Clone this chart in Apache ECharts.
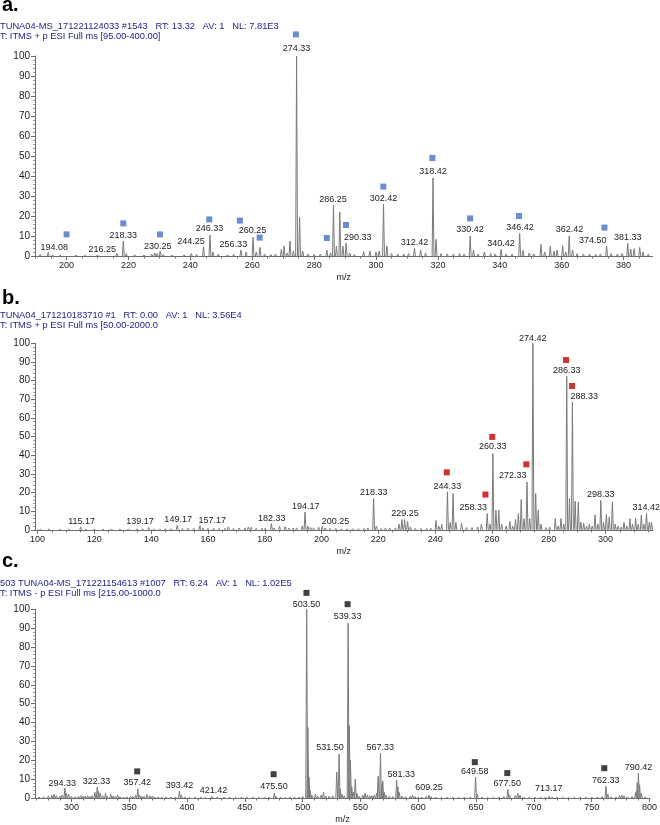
<!DOCTYPE html>
<html><head><meta charset="utf-8">
<script src="https://cdn.jsdelivr.net/npm/echarts@6/dist/echarts.min.js"></script>
<style>html,body{margin:0;padding:0;background:#fff}#c{width:660px;height:825px}</style>
</head><body><div id="c"></div>
<script>
// ---------- Panel a ----------
const peaksA = [[191.5,0.8],[194.08,1.8],[195.5,0.6],[198,0.5],[203,0.5],[206,0.4],[210,0.5],[216.25,1.2],[218.33,7.5],[219.3,1.2],[222,0.6],[225,0.5],[227.5,1.0],[228.5,1.5],[229.3,1.2],[230.25,2.5],[231.3,0.8],[234,0.5],[238,0.6],[240.3,1.2],[242,0.8],[244.25,4.7],[246.33,10.5],[247.3,2.0],[249,0.8],[252,0.6],[254,0.8],[256.33,3.0],[258,2.0],[260.25,9.3],[261.3,2.0],[262.5,4.3],[264,1.0],[266,0.8],[267.5,1.0],[269.4,3.3],[270.3,5.0],[271.3,1.5],[272.2,7.5],[273.3,2.5],[274.33,100],[275.3,19.3],[276.3,2.5],[278,1.0],[280,0.8],[282,1.0],[284.1,3.0],[285.3,1.5],[286.25,25.5],[287.2,5],[288.3,22],[289.3,5],[290.33,6.5],[291.5,1.5],[293,0.8],[296,2.2],[298,2.5],[300,2.0],[301,2.5],[302.42,26],[303.5,5],[305,1.2],[307,1.0],[309,1.0],[310.5,1.2],[312.42,3.8],[314.4,3.0],[316,1.5],[318.42,39],[319.4,8.3],[321,1.2],[323,1.0],[325,1.0],[327,1.2],[328.5,1.0],[330.42,10],[331.5,3],[333,1],[335,2],[337,1.2],[338.5,1.0],[340.42,3.3],[342,1.0],[344,1.0],[346.42,11.3],[347.5,2.7],[349.5,1.5],[351,1.0],[353.3,5.8],[354.5,2],[356.3,5.0],[357.5,2.5],[358.5,3],[360.3,5.2],[361.3,2],[362.42,10],[363.5,3],[365,1.2],[367,1.0],[369,1.0],[371,0.8],[372.5,1.0],[374.5,5],[376,1.2],[378,1.0],[379.5,1.2],[381.33,6.3],[382.3,3.5],[383.4,3.7],[385.2,4.3],[386.3,2],[388,1.0]];
const labelsA = [['274.33',274.33,103.8],['194.08',196.0,4.2],['216.25',211.5,3.3],['218.33',218.33,10.2],['230.25',229.5,4.7],['244.25',240.2,7.2],['246.33',246.2,13.7],['256.33',253.9,5.8],['260.25',260.1,12.5],['286.25',286.1,28.3],['290.33',294.1,9.2],['302.42',302.4,28.8],['312.42',312.4,6.7],['318.42',318.4,42.2],['330.42',330.4,13.3],['340.42',340.4,6],['346.42',346.5,14.2],['362.42',362.5,13],['374.50',370.0,7.7],['381.33',381.33,9.2]];
const squaresA = [[200.0,10.8],[218.33,16.3],[230.2,10.8],[246.1,18.3],[256.0,17.7],[262.4,9.2],[284.1,9],[290.3,15.5],[302.35,34.7],[318.2,49],[330.4,18.8],[346.2,20],[373.8,14.2],[274.1,110.8]];
const ticksA = [200,220,240,260,280,300,320,340,360,380];
const titleA = ['TUNA04-MS_171221124033 #1543   RT: 13.32   AV: 1   NL: 7.81E3','T: ITMS + p ESI Full ms [95.00-400.00]'];

// ---------- Panel b ----------
const peaksB = [[101,0.3],[104,0.4],[108,0.4],[111,0.4],[115.17,1.5],[117,0.4],[120,0.3],[123,0.4],[126,0.5],[129,0.4],[132,0.5],[135,0.5],[137,0.6],[139.17,1.2],[141,0.5],[143,0.5],[145,0.6],[147,0.6],[149.17,2.4],[151,0.7],[153,0.8],[155,0.8],[157.17,2.2],[158.2,1.0],[160,0.8],[162,0.8],[164,0.8],[166,0.8],[167.2,1.6],[169,0.8],[171,1.0],[173,1.0],[174.2,1.5],[175.2,1.3],[177,0.8],[179,0.9],[180.2,0.9],[182.33,3.3],[183.3,1.0],[185.2,2.0],[187.2,1.8],[188.5,0.9],[190,1.0],[191.2,1.0],[193.2,2.0],[194.17,9.5],[195.2,2.0],[196.2,1.2],[197.2,1.0],[199,1.4],[200.25,1.8],[201.3,1.0],[203,0.8],[205,0.8],[207,0.6],[209,0.5],[211,0.6],[213,0.6],[215,0.7],[216.3,1.0],[218.33,16.7],[219.3,2.0],[221,0.8],[222.5,1.0],[224,1.0],[226,1.0],[227.3,3.0],[228.3,5.5],[229.25,5.5],[230.3,4.5],[231.3,1.5],[233,0.8],[235,0.8],[237,0.8],[238.5,0.8],[240.3,5],[241.3,2],[242.3,3],[244.33,20.3],[245.3,4],[246.3,19.4],[247.3,4],[249.3,3.5],[251,1.2],[253,1.2],[255,1.5],[256.3,3],[258.33,8.7],[259.3,3],[260.33,40.8],[261.4,10.5],[262.4,10.5],[263.4,3],[265,2],[266.3,4.5],[267.3,2],[268.3,5.5],[269.3,8.7],[270.3,16.2],[271.3,6],[272.33,25.6],[273.3,6],[274.42,100],[275.4,19.4],[276.3,10.5],[277.3,3],[279,1.2],[280.3,1.5],[282.3,6],[283.3,2],[284.3,6],[285.3,3],[286.33,82.3],[287.3,16.8],[288.33,68.5],[289.3,15.4],[290.4,14.9],[291.3,4],[292.3,3.5],[293.3,2],[294.3,3],[295.3,2],[296.3,8],[297.3,3],[298.33,15.8],[299.3,4],[300.3,8.3],[301.3,6.8],[302.4,14.9],[303.4,3],[304.4,2],[305.5,1.5],[306.5,4],[307.5,2],[308.6,6],[309.5,3],[310.6,6.3],[311.5,3],[312.6,7.8],[313.5,3],[314.42,8.7],[315.4,4],[316.2,4]];
const labelsB = [['115.17',115.5,4.6],['139.17',136.1,4.6],['149.17',149.5,5.5],['157.17',161.5,5.1],['182.33',182.5,6.3],['194.17',194.4,12.6],['200.25',204.9,4.6],['218.33',218.4,19.9],['229.25',229.4,8.7],['244.33',244.3,23.3],['258.33',253.4,11.9],['260.33',260.3,44.4],['272.33',267.3,28.9],['274.42',274.4,102.5],['286.33',286.33,85.5],['288.33',292.5,71.7],['298.33',298.3,19],['314.42',314.3,11.9]];
const squaresB = [[244.1,30.8],[257.7,18.9],[260.1,49.8],[272.1,35.1],[286.1,91],[288.2,77.1]];
const ticksB = [100,120,140,160,180,200,220,240,260,280,300];
const titleB = ['TUNA04_171210183710 #1   RT: 0.00   AV: 1   NL: 3.56E4','T: ITMS + p ESI Full ms [50.00-2000.0'];

// ---------- Panel c ----------
const peaksC = [[272,0.5],[276,0.6],[280,1.0],[283,1.5],[285,2.0],[287,1.2],[290,1.0],[292,1.5],[294.33,5.3],[295.5,2.5],[297.5,2.0],[300,0.8],[303,0.6],[306,0.8],[308,1.2],[310,1.0],[312,1.0],[314,1.2],[316,0.8],[318,1.2],[320.3,3.0],[322.33,5.8],[323.5,3.5],[325,2.5],[327,1.2],[329.5,2.5],[331,1.0],[334,2.0],[336,1.0],[338,0.8],[340,1.5],[342,0.6],[345,0.5],[348,0.6],[351,0.8],[353,0.8],[355.5,1.5],[357.42,4.9],[359,1.5],[361,0.8],[363,0.8],[365.5,1.8],[368,1.2],[370,1.0],[372,0.6],[375,0.5],[378,0.5],[382,0.5],[386,0.5],[390,0.6],[393.42,3.7],[395,1.5],[398,0.6],[402,0.4],[407,0.4],[412,0.4],[416,0.4],[421.42,0.8],[426,0.4],[432,0.4],[437,0.4],[442,0.4],[447,0.5],[452,0.4],[457,0.4],[462,0.4],[467,0.4],[471,0.5],[475.5,2.6],[477,0.8],[481,0.5],[485,0.4],[489,0.5],[493,0.5],[497,0.5],[500,0.8],[503.5,100],[504.5,37.4],[505.5,11],[506.5,4],[508,1.5],[511,2.0],[513,1.0],[516,1.5],[518,3.0],[520,1.0],[523,1.0],[526,1.2],[529.5,13.7],[531.5,23.3],[532.5,5],[534,2],[536,1.2],[539.33,92.6],[540.33,38.3],[541.33,20],[542.5,6],[544,3],[545.5,10],[547,2.5],[549,1.0],[552,1.5],[554,2.5],[556,1.5],[558,1.2],[560,1.2],[562,1.5],[564,2.5],[565.3,11.6],[567.33,23.8],[568.3,7],[569.3,9],[570.5,3],[572,1.5],[575,1.0],[578,0.8],[581.33,9.4],[582.4,6],[583.5,3],[586,1.0],[589,0.6],[593,0.8],[595,1.5],[597,0.8],[600,0.6],[603,0.5],[607,0.8],[609.25,1.5],[611,0.8],[615,0.5],[620,0.4],[625,0.4],[630,0.4],[635,0.4],[640,0.5],[645,0.5],[649.58,11],[651,2.0],[655,0.5],[660,0.4],[665,0.4],[670,0.5],[674,0.8],[677.5,4.5],[679,1.5],[684,1.2],[686,2.5],[688,1.5],[691,0.6],[696,0.4],[701,0.4],[706,0.4],[710,0.5],[713.17,0.8],[716,0.5],[720,0.4],[725,0.4],[730,0.4],[735,0.4],[740,0.4],[745,0.4],[750,0.5],[755,0.5],[759,0.8],[762.33,6.2],[764,2.0],[767,0.6],[771,0.6],[774,1.2],[776,1.5],[778,1.2],[781,0.6],[785,0.8],[788,3],[789.4,8],[790.42,13.2],[791.4,7],[793,2.5],[796,0.6]];
const labelsC = [['294.33',292.0,7.9],['322.33',321.6,8.9],['357.42',356.9,8],['393.42',393.4,6.6],['421.42',422.9,4],['475.50',475.2,6.1],['503.50',503.3,102.6],['531.50',523.7,26.8],['539.33',538.9,96.2],['567.33',567.1,26.8],['581.33',585.2,12.3],['609.25',609.3,5.3],['649.58',648.9,13.8],['677.50',677.0,7.5],['713.17',712.9,5],['762.33',762.2,9.4],['790.42',790.4,16.3]];
const squaresC = [[356.9,14.1],[474.9,12.6],[503.3,108.7],[538.9,102.7],[648.9,19],[677.0,13.2],[760.9,15.8]];
const ticksC = [300,350,400,450,500,550,600,650,700,750,800];
const titleC = ['503 TUNA04-MS_171221154613 #1007   RT: 6.24   AV: 1   NL: 1.02E5','T: ITMS - p ESI Full ms [215.00-1000.0'];

const yTicks = [0,10,20,30,40,50,60,70,80,90,100];

// ---------- layout / style ----------
const FONT = '"Liberation Sans", Arial, Helvetica, sans-serif';
const AXIS = '#6e6e6e';
const TXT = '#1b1b1b';
const NAVY = '#23238c';
const SPEC = '#7a7a7a';

const panels = [
  {tag:'a.', tagY:5, titleY:26, title:titleA, peaks:peaksA, labels:labelsA, squares:squaresA, sq:'#4472c4',
   min:189.8, max:389.4, ticks:ticksA, minorFrom:190, minorStep:5, top:56, height:200, hw:0.3},
  {tag:'b.', tagY:298, titleY:315.5, title:titleB, peaks:peaksB, labels:labelsB, squares:squaresB, sq:'#c00000',
   min:99.1, max:316.6, ticks:ticksB, minorFrom:100, minorStep:5, top:343.3, height:186.5, hw:0.33},
  {tag:'c.', tagY:561, titleY:583.3, title:titleC, peaks:peaksC, labels:labelsC, squares:squaresC, sq:'#111111',
   min:268.5, max:800.5, ticks:ticksC, minorFrom:270, minorStep:10, top:609.3, height:190, hw:0.8}
];

const grid = [], xAxis = [], yAxis = [], series = [], graphic = [];
panels.forEach((p, i) => {
  grid.push({left:35, right:7.3, top:p.top, height:p.height, containLabel:false});
  const minor = [];
  for (let v = p.minorFrom; v <= p.max; v += p.minorStep) if (v >= p.min) minor.push(v);
  xAxis.push({
    gridIndex:i, type:'value', min:p.min, max:p.max, position:'bottom',
    axisLine:{show:true, onZero:false, lineStyle:{color:AXIS, width:1}},
    axisTick:{show:true, length:4, customValues:p.ticks, lineStyle:{color:AXIS}},
    axisLabel:{show:true, customValues:p.ticks, fontSize:9, fontFamily:FONT, color:TXT, margin:5, hideOverlap:false},
    splitLine:{show:false},
    name:'m/z', nameLocation:'middle', nameGap:17, nameTextStyle:{fontSize:9, fontFamily:FONT, color:TXT}
  });
  xAxis.push({
    gridIndex:i, type:'value', min:p.min, max:p.max, position:'bottom', offset:0,
    axisLine:{show:false}, axisLabel:{show:false}, splitLine:{show:false},
    axisTick:{show:true, length:2.5, customValues:minor, lineStyle:{color:AXIS}}
  });
  yAxis.push({
    gridIndex:i, type:'value', min:0, max:100, interval:10,
    axisLine:{show:true, lineStyle:{color:AXIS, width:1}},
    axisTick:{show:true, length:4, lineStyle:{color:AXIS}},
    minorTick:{show:true, splitNumber:5, length:2, lineStyle:{color:'#9a9a9a'}},
    axisLabel:{fontSize:10, fontFamily:FONT, color:TXT, margin:5, customValues:yTicks},
    splitLine:{show:false}
  });
  const hw = p.hw;
  series.push({
    type:'custom', xAxisIndex:2*i, yAxisIndex:i, silent:true, animation:false,
    data:p.peaks,
    renderItem:(params, api) => {
      const x = api.value(0), y = api.value(1);
      const l = api.coord([x - hw, 0]);
      const t = api.coord([x, y]);
      const r = api.coord([x + hw, 0]);
      return {type:'polyline', shape:{points:[l, t, r]}, style:{stroke:SPEC, fill:null, lineWidth:1}};
    }
  });
  series.push({
    type:'scatter', xAxisIndex:2*i, yAxisIndex:i, silent:true, clip:false, animation:false,
    symbol:'rect', symbolSize:6, itemStyle:{color:p.sq}, data:p.squares, z:5
  });
  const labs = p.labels;
  series.push({
    type:'custom', xAxisIndex:2*i, yAxisIndex:i, silent:true, animation:false, z:6,
    data:labs.map(l => [l[1], l[2]]),
    renderItem:(params, api) => {
      const c = api.coord([api.value(0), api.value(1)]);
      return {type:'text', x:c[0], y:c[1], style:{text:labs[params.dataIndex][0], fill:TXT,
        font:'9px ' + FONT, align:'center', verticalAlign:'middle'}};
    }
  });
  graphic.push({type:'text', x:2, y:p.tagY, style:{text:p.tag, fill:'#000', font:'bold 20px ' + FONT, verticalAlign:'middle'}});
  graphic.push({type:'text', x:0, y:p.titleY, style:{text:p.title[0], fill:NAVY, font:'9.3px ' + FONT, verticalAlign:'middle'}});
  graphic.push({type:'text', x:0, y:p.titleY + 10, style:{text:p.title[1], fill:NAVY, font:'9.3px ' + FONT, verticalAlign:'middle'}});
});

const chart = echarts.init(document.getElementById('c'), null, {renderer:'canvas'});
chart.setOption({animation:false, backgroundColor:'#fff', grid, xAxis, yAxis, series, graphic});
</script></body></html>
